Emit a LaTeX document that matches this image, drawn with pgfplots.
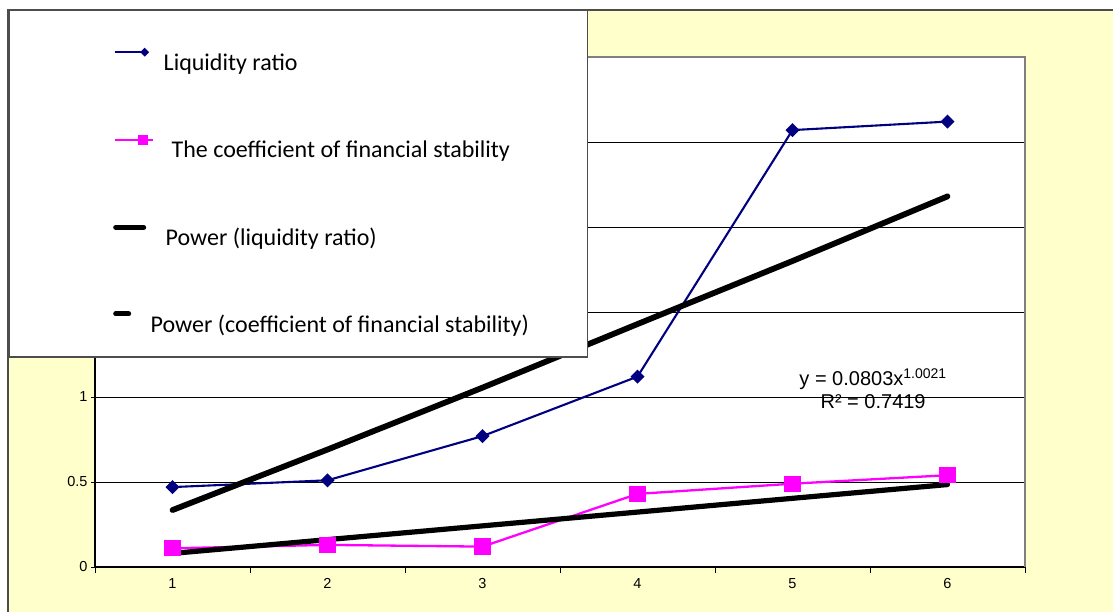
\documentclass[border=0pt]{standalone}
\usepackage{pgfplots}
\pgfplotsset{compat=1.18}
\usepackage{fontspec}
\setmainfont{Liberation Sans}
\newfontfamily\calibri{Carlito}
\definecolor{chartbg}{HTML}{FFFFCC}
\definecolor{navyline}{HTML}{000080}
\definecolor{magline}{HTML}{FF00FF}
\definecolor{framegray}{HTML}{808080}

\begin{document}
\begin{tikzpicture}[x=1pt,y=1pt]
\useasboundingbox (0,0) rectangle (1113,611);
\fill[white] (0,0) rectangle (1113,611);
\filldraw[fill=chartbg, draw=black!70, line width=1.2pt] (8,-10) rectangle (1125,601);
\begin{axis}[
  at={(95pt,44pt)}, anchor=south west,
  scale only axis, width=930pt, height=510pt,
  xmin=0.5, xmax=6.5, ymin=0, ymax=3,
  clip=false,
  axis background/.style={fill=white},
  axis line style={draw=none},
  tick align=outside,
  xtick pos=bottom, ytick pos=left,
  xtick={1,...,6},
  minor xtick={0.5,1.5,...,6.5},
  major x tick style={draw=none},
  minor tick length=6pt,
  ytick={0,0.5,1,1.5,2,2.5,3},
  yticklabels={0,0.5,1,,,,},
  major tick length=4pt,
  tick style={black, line width=0.9pt},
  ymajorgrids,
  grid style={black, line width=0.8pt},
  /pgf/number format/assume math mode=true,
  tick label style={font=\fontsize{14.5}{17}\selectfont},
  xticklabel style={yshift=-4pt},
  legend style={at={(rel axis cs:0.01935,1.0196)}, anchor=north west,
    draw=none, fill=none, inner sep=0pt,
    row sep=60pt, column sep=5pt,
    font=\calibri\fontsize{24}{28}\selectfont,
    nodes={inner sep=2pt}},
  legend cell align=left,
]
% the two observed series
\addplot[navyline, line width=2.1pt, mark=square*, mark size=3.9pt,
  mark options={rotate=45, solid},
  legend image code/.code={
    \path[draw=none, fill=none] (0pt,-4pt) rectangle (42pt,16pt);
    \draw[draw=navyline, line width=2pt] (0pt,11pt) -- (29pt,11pt);
    \fill[navyline] (30pt,14pt) -- (33pt,11pt) -- (30pt,8pt) -- (27pt,11pt) -- cycle;}]
  coordinates {(1,0.47) (2,0.51) (3,0.77) (4,1.12) (5,2.57) (6,2.62)};
\addlegendentry{Liquidity ratio}

\addplot[magline, line width=2.3pt, mark=square*, mark size=7pt,
  legend image code/.code={
    \path[draw=none, fill=none] (0pt,-4pt) rectangle (42pt,16pt);
    \draw[draw=magline, line width=2.4pt] (0pt,10pt) -- (38pt,10pt);
    \fill[fill=magline] (24pt,6pt) rectangle (32pt,14pt);}]
  coordinates {(1,0.11) (2,0.13) (3,0.12) (4,0.43) (5,0.49) (6,0.54)};
\addlegendentry{\hspace{8pt}The coefficient of financial stability}

% power trend lines
\addplot[black, line width=5.8pt, line cap=round,
  legend image code/.code={
    \path[draw=none, fill=none] (0pt,-4pt) rectangle (42pt,16pt);
    \draw[black, line width=5pt, line cap=round] (1pt,10pt) -- (29pt,10pt);}]
  coordinates {(1,0.335) (2,0.691) (3,1.055) (4,1.429) (5,1.800) (6,2.180)};
\addlegendentry{\hspace{2pt}Power (liquidity ratio)}

\addplot[black, line width=5.2pt, line cap=round,
  legend image code/.code={
    \path[draw=none, fill=none] (0pt,-4pt) rectangle (42pt,16pt);
    \draw[black, line width=5pt, line cap=round] (1pt,11pt) -- (14pt,11pt);}]
  coordinates {(1,0.080) (2,0.161) (3,0.242) (4,0.323) (5,0.404) (6,0.485)};
\addlegendentry{\hspace{-13pt}Power (coefficient of financial stability)}

\node[align=center, font=\fontsize{20}{23}\selectfont, inner sep=0pt]
  at (axis cs:5.52,1.05) {y = 0.0803x\textsuperscript{1.0021}\\R² = 0.7419};

% plot area frame
\draw[black, line width=1.2pt] (rel axis cs:0,1) -- (rel axis cs:0,0) -- (rel axis cs:1,0);
\draw[framegray, line width=2pt] (rel axis cs:0,1) -- (rel axis cs:1,1) -- (rel axis cs:1,0);
% legend frame
\filldraw[fill=white, draw=framegray!60!black, line width=1.2pt]
  (rel axis cs:-0.0925,1.0922) rectangle (rel axis cs:0.5296,0.4118);
\end{axis}
\end{tikzpicture}
\end{document}
